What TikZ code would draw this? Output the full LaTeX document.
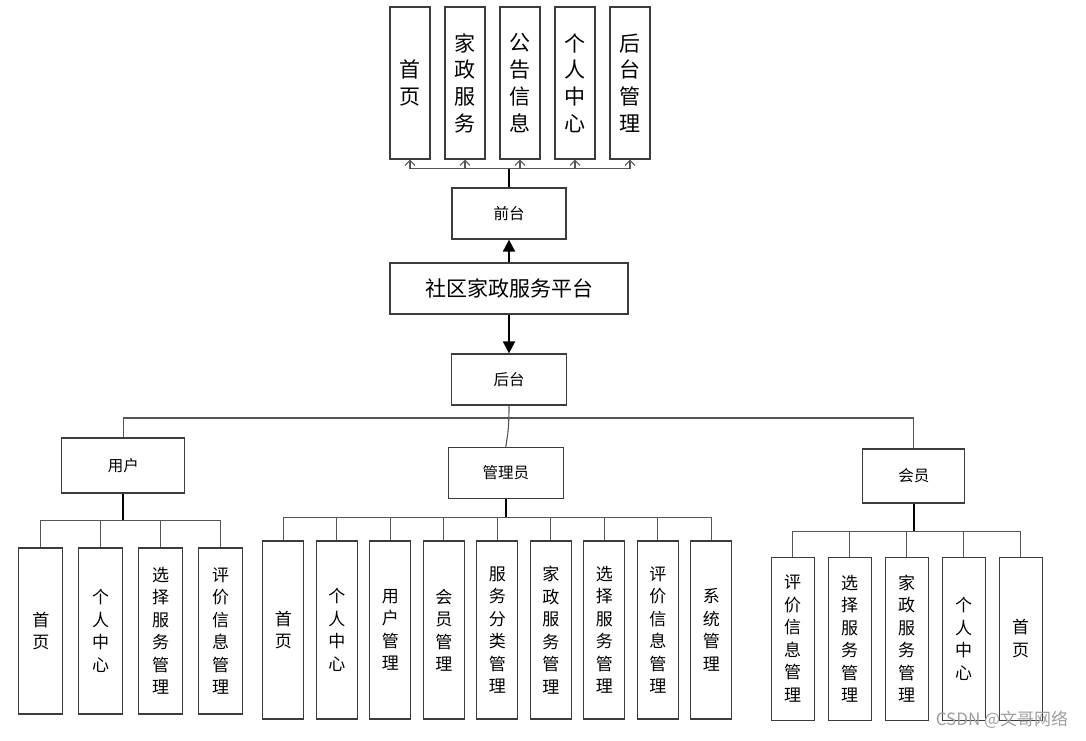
\documentclass[tikz,border=0pt]{standalone}
\usepackage{fontspec}
\setmainfont{Noto Sans CJK SC}
\usetikzlibrary{arrows.meta}
\definecolor{boxc}{HTML}{3C3C3C}
\definecolor{connc}{HTML}{555555}
\begin{document}
\begin{tikzpicture}[x=1pt,y=-1pt,
  box/.style={draw=boxc, line width=1.2pt, fill=white, inner sep=0pt, align=center},
  topbox/.style={box, minimum width=40pt, minimum height=152pt, font=\fontsize{21}{26.7}\selectfont},
  midbox/.style={box, minimum height=51pt, font=\fontsize{15.5}{18}\selectfont},
  ubox/.style={box, minimum width=44pt, minimum height=166pt, font=\fontsize{17}{22.5}\selectfont},
  abox/.style={box, minimum width=41pt, minimum height=178pt, font=\fontsize{17}{22.5}\selectfont},
  mbox/.style={box, minimum width=43pt, minimum height=163pt, font=\fontsize{17}{22.5}\selectfont},
  conn/.style={draw=connc, line width=1.1pt},
  stem/.style={draw=black, line width=1.8pt},
  barb/.style={-{Straight Barb[length=5pt,width=10pt]}},
  tri/.style={-{Triangle[length=12pt,width=12pt]}}
]
\useasboundingbox (0,0) rectangle (1086,740);

% top level boxes
\node[topbox] (t1) at (410,83) {首\\页};
\node[topbox] (t2) at (465,83) {家\\政\\服\\务};
\node[topbox] (t3) at (520,83) {公\\告\\信\\息};
\node[topbox] (t4) at (575,83) {个\\人\\中\\心};
\node[topbox] (t5) at (630,83) {后\\台\\管\\理};

\node[midbox, minimum width=114pt] (qiantai) at (509,213.5) {前台};
\node[box, minimum width=238pt, minimum height=51pt, font=\fontsize{21}{24}\selectfont] (pingtai) at (509,288.5) {社区家政服务平台};
\node[midbox, minimum width=115pt] (houtai) at (509,379.5) {后台};

\node[box, minimum width=123pt, minimum height=55pt, font=\fontsize{15.5}{18}\selectfont] (yonghu) at (123.3,465.5) {用户};
\node[box, minimum width=115pt, minimum height=51pt, font=\fontsize{15.5}{18}\selectfont] (guanli) at (505.8,473) {管理员};
\node[box, minimum width=102pt, minimum height=54pt, font=\fontsize{15.5}{18}\selectfont] (huiyuan) at (913.8,476) {会员};

% user children
\node[ubox] (u1) at (40.8,631) {首\\页};
\node[ubox] (u2) at (100.5,631) {个\\人\\中\\心};
\node[ubox] (u3) at (160.5,631) {选\\择\\服\\务\\管\\理};
\node[ubox] (u4) at (220.5,631) {评\\价\\信\\息\\管\\理};

% admin children
\node[abox] (a1) at (283.3,630) {首\\页};
\node[abox] (a2) at (336.8,630) {个\\人\\中\\心};
\node[abox] (a3) at (390.3,630) {用\\户\\管\\理};
\node[abox] (a4) at (443.8,630) {会\\员\\管\\理};
\node[abox] (a5) at (497.3,630) {服\\务\\分\\类\\管\\理};
\node[abox] (a6) at (550.8,630) {家\\政\\服\\务\\管\\理};
\node[abox] (a7) at (604.3,630) {选\\择\\服\\务\\管\\理};
\node[abox] (a8) at (657.8,630) {评\\价\\信\\息\\管\\理};
\node[abox] (a9) at (711.3,630) {系\\统\\管\\理};

% member children
\node[mbox] (m1) at (792.7,638.7) {评\\价\\信\\息\\管\\理};
\node[mbox] (m2) at (849.7,638.7) {选\\择\\服\\务\\管\\理};
\node[mbox] (m3) at (906.7,638.7) {家\\政\\服\\务\\管\\理};
\node[mbox] (m4) at (963.7,638.7) {个\\人\\中\\心};
\node[mbox] (m5) at (1020.7,638.7) {首\\页};

% coordinates
\coordinate (tbus) at (509,168.5);
\coordinate (busL) at (123.3,418);
\coordinate (busR) at (913.8,418);
\coordinate (ubus) at (123.3,520.7);
\coordinate (abus) at (505.8,517.7);
\coordinate (mbus) at (913.8,531.7);

% top connectors
\draw[stem] (qiantai.north) -- (tbus);
\foreach \t in {t1,t2,t3,t4,t5} \draw[conn,barb] (tbus) -| (\t.south);

% platform arrows
\draw[stem,tri] (pingtai.north) -- (qiantai.south);
\draw[stem,tri] (pingtai.south) -- (houtai.south |- houtai.north);

% backend to roles
\draw[conn] (yonghu.north) -- (busL) -- (busR) -- (huiyuan.north);
\draw[conn] (houtai.south) .. controls (509,432) and (507,438) .. (guanli.north);

% role to children
\draw[stem] (yonghu.south) -- (ubus);
\foreach \c in {u1,u2,u3,u4} \draw[conn] (ubus) -| (\c.north);
\draw[stem] (guanli.south) -- (abus);
\foreach \c in {a1,a2,a3,a4,a5,a6,a7,a8,a9} \draw[conn] (abus) -| (\c.north);
\draw[stem] (huiyuan.south) -- (mbus);
\foreach \c in {m1,m2,m3,m4,m5} \draw[conn] (mbus) -| (\c.north);

% watermark
\node[font=\fontsize{17}{17}\selectfont, text=gray!75] (wm) at (1002,720) {CSDN @文哥网络};
\end{tikzpicture}
\end{document}
